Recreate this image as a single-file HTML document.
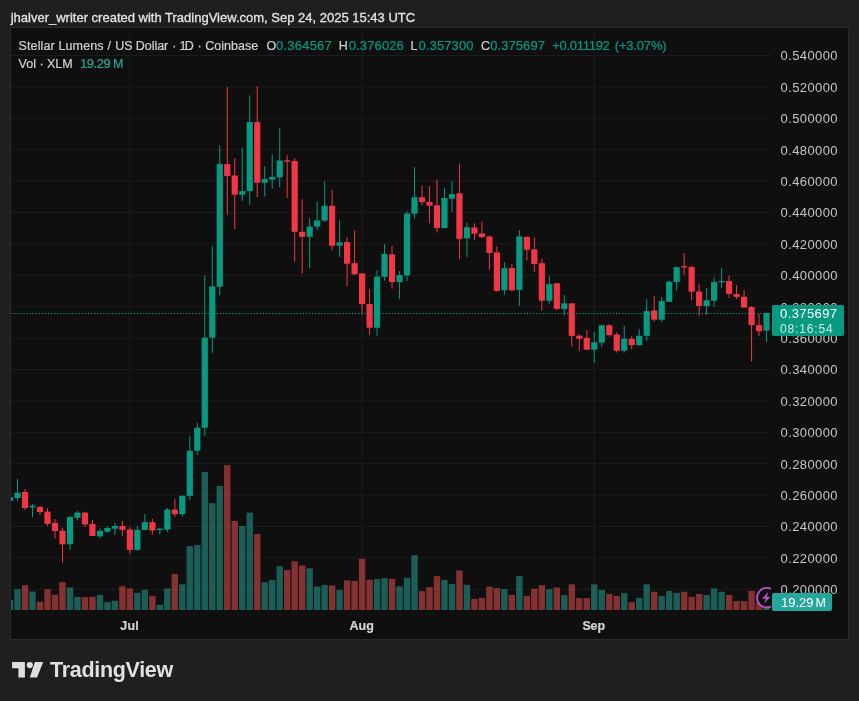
<!DOCTYPE html>
<html lang="en">
<head>
<meta charset="utf-8">
<title>XLMUSD chart</title>
<style>
html,body{margin:0;padding:0;}
body{width:859px;height:701px;background:#1f1f1f;position:relative;overflow:hidden;font-family:"Liberation Sans",Arial,sans-serif;}
.abs{position:absolute;}
.t{position:absolute;white-space:pre;-webkit-text-stroke:0.22px currentColor;}
#chart{left:10px;top:27px;width:839px;height:613px;border:1px solid #2a2a2a;box-sizing:border-box;background:#0f0f0f;}
#plot{left:0;top:0;width:859px;height:701px;}
#pbox{left:771.7px;top:305.2px;width:72.1px;height:31.1px;background:#089981;border-radius:2px;}
#vbox{left:771.8px;top:593.3px;width:60.2px;height:17.6px;background:#26a69a;border-radius:2px;}
</style>
</head>
<body>
<div id="chart" class="abs"></div>
<svg id="plot" class="abs" width="859" height="701" viewBox="0 0 859 701">
<defs><clipPath id="cp2"><rect x="11" y="28" width="760" height="611"/></clipPath><clipPath id="cp"><rect x="11" y="28" width="837" height="611"/></clipPath></defs>
<g clip-path="url(#cp)">
<rect x="11" y="55" width="760" height="1" fill="#1c1c1c"/>
<rect x="11" y="86.4" width="760" height="1" fill="#1c1c1c"/>
<rect x="11" y="117.8" width="760" height="1" fill="#1c1c1c"/>
<rect x="11" y="149.2" width="760" height="1" fill="#1c1c1c"/>
<rect x="11" y="180.6" width="760" height="1" fill="#1c1c1c"/>
<rect x="11" y="212" width="760" height="1" fill="#1c1c1c"/>
<rect x="11" y="243.4" width="760" height="1" fill="#1c1c1c"/>
<rect x="11" y="274.8" width="760" height="1" fill="#1c1c1c"/>
<rect x="11" y="306.2" width="760" height="1" fill="#1c1c1c"/>
<rect x="11" y="337.6" width="760" height="1" fill="#1c1c1c"/>
<rect x="11" y="369" width="760" height="1" fill="#1c1c1c"/>
<rect x="11" y="400.4" width="760" height="1" fill="#1c1c1c"/>
<rect x="11" y="431.8" width="760" height="1" fill="#1c1c1c"/>
<rect x="11" y="463.2" width="760" height="1" fill="#1c1c1c"/>
<rect x="11" y="494.6" width="760" height="1" fill="#1c1c1c"/>
<rect x="11" y="526" width="760" height="1" fill="#1c1c1c"/>
<rect x="11" y="557.4" width="760" height="1" fill="#1c1c1c"/>
<rect x="11" y="588.8" width="760" height="1" fill="#1c1c1c"/>
<rect x="129.39" y="28" width="1" height="583" fill="#1c1c1c"/>
<rect x="361.58" y="28" width="1" height="583" fill="#1c1c1c"/>
<rect x="593.77" y="28" width="1" height="583" fill="#1c1c1c"/>
<rect x="6.85" y="600.1" width="6.4" height="9.9" fill="#26a69a" fill-opacity="0.52"/>
<rect x="14.34" y="589.3" width="6.4" height="20.7" fill="#26a69a" fill-opacity="0.52"/>
<rect x="21.83" y="585.1" width="6.4" height="24.9" fill="#ef5350" fill-opacity="0.52"/>
<rect x="29.32" y="591.5" width="6.4" height="18.5" fill="#26a69a" fill-opacity="0.52"/>
<rect x="36.81" y="601.7" width="6.4" height="8.3" fill="#ef5350" fill-opacity="0.52"/>
<rect x="44.3" y="589.3" width="6.4" height="20.7" fill="#ef5350" fill-opacity="0.52"/>
<rect x="51.79" y="594.7" width="6.4" height="15.3" fill="#ef5350" fill-opacity="0.52"/>
<rect x="59.28" y="582.1" width="6.4" height="27.9" fill="#ef5350" fill-opacity="0.52"/>
<rect x="66.77" y="587.5" width="6.4" height="22.5" fill="#26a69a" fill-opacity="0.52"/>
<rect x="74.26" y="596.9" width="6.4" height="13.1" fill="#26a69a" fill-opacity="0.52"/>
<rect x="81.75" y="597.1" width="6.4" height="12.9" fill="#ef5350" fill-opacity="0.52"/>
<rect x="89.24" y="596.7" width="6.4" height="13.3" fill="#ef5350" fill-opacity="0.52"/>
<rect x="96.73" y="594.9" width="6.4" height="15.1" fill="#26a69a" fill-opacity="0.52"/>
<rect x="104.22" y="602.1" width="6.4" height="7.9" fill="#26a69a" fill-opacity="0.52"/>
<rect x="111.71" y="600.7" width="6.4" height="9.3" fill="#26a69a" fill-opacity="0.52"/>
<rect x="119.2" y="586.3" width="6.4" height="23.7" fill="#ef5350" fill-opacity="0.52"/>
<rect x="126.69" y="588.5" width="6.4" height="21.5" fill="#ef5350" fill-opacity="0.52"/>
<rect x="134.18" y="592.9" width="6.4" height="17.1" fill="#26a69a" fill-opacity="0.52"/>
<rect x="141.67" y="589.7" width="6.4" height="20.3" fill="#26a69a" fill-opacity="0.52"/>
<rect x="149.16" y="595.9" width="6.4" height="14.1" fill="#ef5350" fill-opacity="0.52"/>
<rect x="156.65" y="604.9" width="6.4" height="5.1" fill="#26a69a" fill-opacity="0.52"/>
<rect x="164.14" y="588.5" width="6.4" height="21.5" fill="#26a69a" fill-opacity="0.52"/>
<rect x="171.63" y="574.1" width="6.4" height="35.9" fill="#ef5350" fill-opacity="0.52"/>
<rect x="179.12" y="584.3" width="6.4" height="25.7" fill="#26a69a" fill-opacity="0.52"/>
<rect x="186.61" y="546.1" width="6.4" height="63.9" fill="#26a69a" fill-opacity="0.52"/>
<rect x="194.1" y="545.1" width="6.4" height="64.9" fill="#26a69a" fill-opacity="0.52"/>
<rect x="201.59" y="471.9" width="6.4" height="138.1" fill="#26a69a" fill-opacity="0.52"/>
<rect x="209.08" y="503.2" width="6.4" height="106.8" fill="#26a69a" fill-opacity="0.52"/>
<rect x="216.57" y="486" width="6.4" height="124" fill="#26a69a" fill-opacity="0.52"/>
<rect x="224.06" y="465.1" width="6.4" height="144.9" fill="#ef5350" fill-opacity="0.52"/>
<rect x="231.55" y="521" width="6.4" height="89" fill="#ef5350" fill-opacity="0.52"/>
<rect x="239.04" y="526" width="6.4" height="84" fill="#26a69a" fill-opacity="0.52"/>
<rect x="246.53" y="512.6" width="6.4" height="97.4" fill="#26a69a" fill-opacity="0.52"/>
<rect x="254.02" y="534" width="6.4" height="76" fill="#ef5350" fill-opacity="0.52"/>
<rect x="261.51" y="582.3" width="6.4" height="27.7" fill="#26a69a" fill-opacity="0.52"/>
<rect x="269" y="579.9" width="6.4" height="30.1" fill="#26a69a" fill-opacity="0.52"/>
<rect x="276.49" y="566.1" width="6.4" height="43.9" fill="#26a69a" fill-opacity="0.52"/>
<rect x="283.98" y="570.1" width="6.4" height="39.9" fill="#ef5350" fill-opacity="0.52"/>
<rect x="291.47" y="561.3" width="6.4" height="48.7" fill="#ef5350" fill-opacity="0.52"/>
<rect x="298.96" y="565.5" width="6.4" height="44.5" fill="#ef5350" fill-opacity="0.52"/>
<rect x="306.45" y="568.3" width="6.4" height="41.7" fill="#26a69a" fill-opacity="0.52"/>
<rect x="313.94" y="586.5" width="6.4" height="23.5" fill="#26a69a" fill-opacity="0.52"/>
<rect x="321.43" y="584.9" width="6.4" height="25.1" fill="#26a69a" fill-opacity="0.52"/>
<rect x="328.92" y="585.5" width="6.4" height="24.5" fill="#ef5350" fill-opacity="0.52"/>
<rect x="336.41" y="589.9" width="6.4" height="20.1" fill="#26a69a" fill-opacity="0.52"/>
<rect x="343.9" y="580.3" width="6.4" height="29.7" fill="#ef5350" fill-opacity="0.52"/>
<rect x="351.39" y="580.9" width="6.4" height="29.1" fill="#ef5350" fill-opacity="0.52"/>
<rect x="358.88" y="558.9" width="6.4" height="51.1" fill="#ef5350" fill-opacity="0.52"/>
<rect x="366.37" y="579.9" width="6.4" height="30.1" fill="#ef5350" fill-opacity="0.52"/>
<rect x="373.86" y="579.1" width="6.4" height="30.9" fill="#26a69a" fill-opacity="0.52"/>
<rect x="381.35" y="578.1" width="6.4" height="31.9" fill="#26a69a" fill-opacity="0.52"/>
<rect x="388.84" y="578.9" width="6.4" height="31.1" fill="#ef5350" fill-opacity="0.52"/>
<rect x="396.33" y="586.3" width="6.4" height="23.7" fill="#26a69a" fill-opacity="0.52"/>
<rect x="403.82" y="577.9" width="6.4" height="32.1" fill="#26a69a" fill-opacity="0.52"/>
<rect x="411.31" y="555.3" width="6.4" height="54.7" fill="#26a69a" fill-opacity="0.52"/>
<rect x="418.8" y="591.1" width="6.4" height="18.9" fill="#ef5350" fill-opacity="0.52"/>
<rect x="426.29" y="587.1" width="6.4" height="22.9" fill="#ef5350" fill-opacity="0.52"/>
<rect x="433.78" y="576.1" width="6.4" height="33.9" fill="#ef5350" fill-opacity="0.52"/>
<rect x="441.27" y="579.9" width="6.4" height="30.1" fill="#26a69a" fill-opacity="0.52"/>
<rect x="448.76" y="583.9" width="6.4" height="26.1" fill="#26a69a" fill-opacity="0.52"/>
<rect x="456.25" y="570.5" width="6.4" height="39.5" fill="#ef5350" fill-opacity="0.52"/>
<rect x="463.74" y="584.9" width="6.4" height="25.1" fill="#26a69a" fill-opacity="0.52"/>
<rect x="471.23" y="598.9" width="6.4" height="11.1" fill="#ef5350" fill-opacity="0.52"/>
<rect x="478.72" y="597.9" width="6.4" height="12.1" fill="#ef5350" fill-opacity="0.52"/>
<rect x="486.21" y="586.6" width="6.4" height="23.4" fill="#ef5350" fill-opacity="0.52"/>
<rect x="493.7" y="588.1" width="6.4" height="21.9" fill="#ef5350" fill-opacity="0.52"/>
<rect x="501.19" y="589.1" width="6.4" height="20.9" fill="#26a69a" fill-opacity="0.52"/>
<rect x="508.68" y="594.9" width="6.4" height="15.1" fill="#ef5350" fill-opacity="0.52"/>
<rect x="516.17" y="576.1" width="6.4" height="33.9" fill="#26a69a" fill-opacity="0.52"/>
<rect x="523.66" y="595.9" width="6.4" height="14.1" fill="#ef5350" fill-opacity="0.52"/>
<rect x="531.15" y="588.7" width="6.4" height="21.3" fill="#ef5350" fill-opacity="0.52"/>
<rect x="538.64" y="585.3" width="6.4" height="24.7" fill="#ef5350" fill-opacity="0.52"/>
<rect x="546.13" y="589.3" width="6.4" height="20.7" fill="#26a69a" fill-opacity="0.52"/>
<rect x="553.62" y="587.5" width="6.4" height="22.5" fill="#ef5350" fill-opacity="0.52"/>
<rect x="561.11" y="595.1" width="6.4" height="14.9" fill="#26a69a" fill-opacity="0.52"/>
<rect x="568.6" y="584.3" width="6.4" height="25.7" fill="#ef5350" fill-opacity="0.52"/>
<rect x="576.09" y="598.1" width="6.4" height="11.9" fill="#ef5350" fill-opacity="0.52"/>
<rect x="583.58" y="598.1" width="6.4" height="11.9" fill="#ef5350" fill-opacity="0.52"/>
<rect x="591.07" y="584.3" width="6.4" height="25.7" fill="#26a69a" fill-opacity="0.52"/>
<rect x="598.56" y="589.9" width="6.4" height="20.1" fill="#26a69a" fill-opacity="0.52"/>
<rect x="606.05" y="593.9" width="6.4" height="16.1" fill="#ef5350" fill-opacity="0.52"/>
<rect x="613.54" y="595.9" width="6.4" height="14.1" fill="#ef5350" fill-opacity="0.52"/>
<rect x="621.03" y="593.1" width="6.4" height="16.9" fill="#26a69a" fill-opacity="0.52"/>
<rect x="628.52" y="602.3" width="6.4" height="7.7" fill="#ef5350" fill-opacity="0.52"/>
<rect x="636.01" y="597.9" width="6.4" height="12.1" fill="#26a69a" fill-opacity="0.52"/>
<rect x="643.5" y="584.3" width="6.4" height="25.7" fill="#26a69a" fill-opacity="0.52"/>
<rect x="650.99" y="591.7" width="6.4" height="18.3" fill="#ef5350" fill-opacity="0.52"/>
<rect x="658.48" y="596.1" width="6.4" height="13.9" fill="#26a69a" fill-opacity="0.52"/>
<rect x="665.97" y="590.9" width="6.4" height="19.1" fill="#26a69a" fill-opacity="0.52"/>
<rect x="673.46" y="592.9" width="6.4" height="17.1" fill="#26a69a" fill-opacity="0.52"/>
<rect x="680.95" y="591.7" width="6.4" height="18.3" fill="#ef5350" fill-opacity="0.52"/>
<rect x="688.44" y="596.9" width="6.4" height="13.1" fill="#ef5350" fill-opacity="0.52"/>
<rect x="695.93" y="593.9" width="6.4" height="16.1" fill="#ef5350" fill-opacity="0.52"/>
<rect x="703.42" y="595.1" width="6.4" height="14.9" fill="#26a69a" fill-opacity="0.52"/>
<rect x="710.91" y="588.5" width="6.4" height="21.5" fill="#26a69a" fill-opacity="0.52"/>
<rect x="718.4" y="591.7" width="6.4" height="18.3" fill="#26a69a" fill-opacity="0.52"/>
<rect x="725.89" y="594.9" width="6.4" height="15.1" fill="#ef5350" fill-opacity="0.52"/>
<rect x="733.38" y="601.1" width="6.4" height="8.9" fill="#ef5350" fill-opacity="0.52"/>
<rect x="740.87" y="601.1" width="6.4" height="8.9" fill="#ef5350" fill-opacity="0.52"/>
<rect x="748.36" y="590.9" width="6.4" height="19.1" fill="#ef5350" fill-opacity="0.52"/>
<rect x="755.85" y="602.5" width="6.4" height="7.5" fill="#ef5350" fill-opacity="0.52"/>
<rect x="763.34" y="602.1" width="6.4" height="7.9" fill="#26a69a" fill-opacity="0.52"/>
<rect x="9.55" y="497.2" width="1" height="3.6" fill="#089981"/>
<rect x="6.95" y="497.2" width="6.2" height="3.6" fill="#089981"/>
<rect x="17.04" y="478.8" width="1" height="22" fill="#089981"/>
<rect x="14.44" y="492.8" width="6.2" height="5.2" fill="#089981"/>
<rect x="24.53" y="489" width="1" height="21" fill="#f23645"/>
<rect x="21.93" y="492" width="6.2" height="16" fill="#f23645"/>
<rect x="32.02" y="504" width="1" height="13.2" fill="#089981"/>
<rect x="29.42" y="505.8" width="6.2" height="1.6" fill="#089981"/>
<rect x="39.51" y="506" width="1" height="9" fill="#f23645"/>
<rect x="36.91" y="507" width="6.2" height="5" fill="#f23645"/>
<rect x="47" y="508.2" width="1" height="17.7" fill="#f23645"/>
<rect x="44.4" y="511.6" width="6.2" height="12.3" fill="#f23645"/>
<rect x="54.49" y="519" width="1" height="19.3" fill="#f23645"/>
<rect x="51.89" y="523" width="6.2" height="8" fill="#f23645"/>
<rect x="61.98" y="528" width="1" height="34.9" fill="#f23645"/>
<rect x="59.38" y="530.7" width="6.2" height="13.6" fill="#f23645"/>
<rect x="69.47" y="516" width="1" height="33.7" fill="#089981"/>
<rect x="66.87" y="517" width="6.2" height="27.3" fill="#089981"/>
<rect x="76.96" y="511" width="1" height="9.4" fill="#089981"/>
<rect x="74.36" y="512.6" width="6.2" height="5.2" fill="#089981"/>
<rect x="84.45" y="511.6" width="1" height="15.3" fill="#f23645"/>
<rect x="81.85" y="512.6" width="6.2" height="11.9" fill="#f23645"/>
<rect x="91.94" y="520" width="1" height="16" fill="#f23645"/>
<rect x="89.34" y="524" width="6.2" height="12" fill="#f23645"/>
<rect x="99.43" y="528.7" width="1" height="9.6" fill="#089981"/>
<rect x="96.83" y="530.9" width="6.2" height="5.4" fill="#089981"/>
<rect x="106.92" y="526.3" width="1" height="6.7" fill="#089981"/>
<rect x="104.32" y="528" width="6.2" height="3.7" fill="#089981"/>
<rect x="114.41" y="522.8" width="1" height="12.1" fill="#089981"/>
<rect x="111.81" y="526" width="6.2" height="2.7" fill="#089981"/>
<rect x="121.9" y="521" width="1" height="15.3" fill="#f23645"/>
<rect x="119.3" y="526" width="6.2" height="3.9" fill="#f23645"/>
<rect x="129.39" y="527.3" width="1" height="26.6" fill="#f23645"/>
<rect x="126.79" y="529.5" width="6.2" height="20.4" fill="#f23645"/>
<rect x="136.88" y="526" width="1" height="25" fill="#089981"/>
<rect x="134.28" y="529.9" width="6.2" height="20" fill="#089981"/>
<rect x="144.37" y="514" width="1" height="15.9" fill="#089981"/>
<rect x="141.77" y="522.2" width="6.2" height="7.7" fill="#089981"/>
<rect x="151.86" y="518.8" width="1" height="15.7" fill="#f23645"/>
<rect x="149.26" y="522.2" width="6.2" height="8.3" fill="#f23645"/>
<rect x="159.35" y="528" width="1" height="6.3" fill="#089981"/>
<rect x="156.75" y="528.7" width="6.2" height="1.3" fill="#089981"/>
<rect x="166.84" y="508" width="1" height="23.9" fill="#089981"/>
<rect x="164.24" y="509.6" width="6.2" height="19.9" fill="#089981"/>
<rect x="174.33" y="499" width="1" height="17.8" fill="#f23645"/>
<rect x="171.73" y="509.6" width="6.2" height="4.6" fill="#f23645"/>
<rect x="181.82" y="495.4" width="1" height="21.4" fill="#089981"/>
<rect x="179.22" y="495.8" width="6.2" height="18.4" fill="#089981"/>
<rect x="189.31" y="436.1" width="1" height="64.1" fill="#089981"/>
<rect x="186.71" y="450.7" width="6.2" height="45.1" fill="#089981"/>
<rect x="196.8" y="423.1" width="1" height="31.8" fill="#089981"/>
<rect x="194.2" y="427.7" width="6.2" height="23" fill="#089981"/>
<rect x="204.29" y="275.5" width="1" height="160.6" fill="#089981"/>
<rect x="201.69" y="337.7" width="6.2" height="90" fill="#089981"/>
<rect x="211.78" y="246" width="1" height="106.8" fill="#089981"/>
<rect x="209.18" y="286.3" width="6.2" height="51.4" fill="#089981"/>
<rect x="219.27" y="145.7" width="1" height="149.4" fill="#089981"/>
<rect x="216.67" y="164.1" width="6.2" height="122.6" fill="#089981"/>
<rect x="226.76" y="87" width="1" height="127.8" fill="#f23645"/>
<rect x="224.16" y="164.1" width="6.2" height="12" fill="#f23645"/>
<rect x="234.25" y="158.1" width="1" height="70.9" fill="#f23645"/>
<rect x="231.65" y="175.5" width="6.2" height="19.2" fill="#f23645"/>
<rect x="241.74" y="148.1" width="1" height="52.9" fill="#089981"/>
<rect x="239.14" y="191.1" width="6.2" height="3.6" fill="#089981"/>
<rect x="249.23" y="95.4" width="1" height="109.8" fill="#089981"/>
<rect x="246.63" y="122.1" width="6.2" height="69" fill="#089981"/>
<rect x="256.72" y="86" width="1" height="111" fill="#f23645"/>
<rect x="254.12" y="122.1" width="6.2" height="60.6" fill="#f23645"/>
<rect x="264.21" y="166.1" width="1" height="30.4" fill="#089981"/>
<rect x="261.61" y="179.1" width="6.2" height="3.6" fill="#089981"/>
<rect x="271.7" y="154.1" width="1" height="34.6" fill="#089981"/>
<rect x="269.1" y="176.9" width="6.2" height="2.8" fill="#089981"/>
<rect x="279.19" y="127.7" width="1" height="59.6" fill="#089981"/>
<rect x="276.59" y="160.5" width="6.2" height="16.8" fill="#089981"/>
<rect x="286.68" y="155.1" width="1" height="43" fill="#f23645"/>
<rect x="284.08" y="160.3" width="6.2" height="1.4" fill="#f23645"/>
<rect x="294.17" y="158.1" width="1" height="103.4" fill="#f23645"/>
<rect x="291.57" y="161.1" width="6.2" height="70.7" fill="#f23645"/>
<rect x="301.66" y="199.3" width="1" height="74.2" fill="#f23645"/>
<rect x="299.06" y="231.8" width="6.2" height="5" fill="#f23645"/>
<rect x="309.15" y="218" width="1" height="50.1" fill="#089981"/>
<rect x="306.55" y="226.6" width="6.2" height="10.2" fill="#089981"/>
<rect x="316.64" y="201.5" width="1" height="28.9" fill="#089981"/>
<rect x="314.04" y="220.4" width="6.2" height="6.2" fill="#089981"/>
<rect x="324.13" y="181.5" width="1" height="40.5" fill="#089981"/>
<rect x="321.53" y="205.8" width="6.2" height="14.8" fill="#089981"/>
<rect x="331.62" y="190" width="1" height="60.6" fill="#f23645"/>
<rect x="329.02" y="205.8" width="6.2" height="40" fill="#f23645"/>
<rect x="339.11" y="220.5" width="1" height="36.4" fill="#089981"/>
<rect x="336.51" y="242.3" width="6.2" height="3.4" fill="#089981"/>
<rect x="346.6" y="237.1" width="1" height="49.1" fill="#f23645"/>
<rect x="344" y="242.1" width="6.2" height="21.6" fill="#f23645"/>
<rect x="354.09" y="230.3" width="1" height="44.8" fill="#f23645"/>
<rect x="351.49" y="263.1" width="6.2" height="11.2" fill="#f23645"/>
<rect x="361.58" y="273" width="1" height="41.7" fill="#f23645"/>
<rect x="358.98" y="273.4" width="6.2" height="30.7" fill="#f23645"/>
<rect x="369.07" y="289.3" width="1" height="45.6" fill="#f23645"/>
<rect x="366.47" y="304.1" width="6.2" height="23.6" fill="#f23645"/>
<rect x="376.56" y="270.3" width="1" height="65.4" fill="#089981"/>
<rect x="373.96" y="276.6" width="6.2" height="51.1" fill="#089981"/>
<rect x="384.05" y="244" width="1" height="36.7" fill="#089981"/>
<rect x="381.45" y="254" width="6.2" height="22.8" fill="#089981"/>
<rect x="391.54" y="246" width="1" height="42.7" fill="#f23645"/>
<rect x="388.94" y="254.4" width="6.2" height="27.7" fill="#f23645"/>
<rect x="399.03" y="271" width="1" height="28.1" fill="#089981"/>
<rect x="396.43" y="275" width="6.2" height="7.1" fill="#089981"/>
<rect x="406.52" y="211.1" width="1" height="70" fill="#089981"/>
<rect x="403.92" y="213.5" width="6.2" height="61.9" fill="#089981"/>
<rect x="414.01" y="167.2" width="1" height="51.5" fill="#089981"/>
<rect x="411.41" y="197.3" width="6.2" height="16.4" fill="#089981"/>
<rect x="421.5" y="185.8" width="1" height="19.3" fill="#f23645"/>
<rect x="418.9" y="197.3" width="6.2" height="4.8" fill="#f23645"/>
<rect x="428.99" y="186" width="1" height="37.3" fill="#f23645"/>
<rect x="426.39" y="201.9" width="6.2" height="3.8" fill="#f23645"/>
<rect x="436.48" y="179.6" width="1" height="52.9" fill="#f23645"/>
<rect x="433.88" y="205.3" width="6.2" height="22.8" fill="#f23645"/>
<rect x="443.97" y="187.6" width="1" height="40.9" fill="#089981"/>
<rect x="441.37" y="198.1" width="6.2" height="30" fill="#089981"/>
<rect x="451.46" y="181.4" width="1" height="30.7" fill="#089981"/>
<rect x="448.86" y="194.1" width="6.2" height="4.6" fill="#089981"/>
<rect x="458.95" y="163.6" width="1" height="95.5" fill="#f23645"/>
<rect x="456.35" y="193.3" width="6.2" height="45.6" fill="#f23645"/>
<rect x="466.44" y="222.7" width="1" height="34.2" fill="#089981"/>
<rect x="463.84" y="227.3" width="6.2" height="11" fill="#089981"/>
<rect x="473.93" y="223.3" width="1" height="16.8" fill="#f23645"/>
<rect x="471.33" y="227.5" width="6.2" height="6.2" fill="#f23645"/>
<rect x="481.42" y="221.7" width="1" height="16.4" fill="#f23645"/>
<rect x="478.82" y="233.5" width="6.2" height="3.6" fill="#f23645"/>
<rect x="488.91" y="235.4" width="1" height="34.4" fill="#f23645"/>
<rect x="486.31" y="236.6" width="6.2" height="16.4" fill="#f23645"/>
<rect x="496.4" y="246.4" width="1" height="45.3" fill="#f23645"/>
<rect x="493.8" y="252.4" width="6.2" height="38.5" fill="#f23645"/>
<rect x="503.89" y="262.2" width="1" height="32.7" fill="#089981"/>
<rect x="501.29" y="268.2" width="6.2" height="22.1" fill="#089981"/>
<rect x="511.38" y="264" width="1" height="27.5" fill="#f23645"/>
<rect x="508.78" y="268" width="6.2" height="22.3" fill="#f23645"/>
<rect x="518.87" y="230" width="1" height="75.9" fill="#089981"/>
<rect x="516.27" y="236.4" width="6.2" height="53.5" fill="#089981"/>
<rect x="526.36" y="236.4" width="1" height="24.2" fill="#f23645"/>
<rect x="523.76" y="237" width="6.2" height="12.8" fill="#f23645"/>
<rect x="533.85" y="237.4" width="1" height="34.5" fill="#f23645"/>
<rect x="531.25" y="249.4" width="6.2" height="14.6" fill="#f23645"/>
<rect x="541.34" y="258.6" width="1" height="52.1" fill="#f23645"/>
<rect x="538.74" y="263.2" width="6.2" height="37.5" fill="#f23645"/>
<rect x="548.83" y="276.1" width="1" height="27.6" fill="#089981"/>
<rect x="546.23" y="284.1" width="6.2" height="16.6" fill="#089981"/>
<rect x="556.32" y="283" width="1" height="27.3" fill="#f23645"/>
<rect x="553.72" y="283.3" width="6.2" height="25.6" fill="#f23645"/>
<rect x="563.81" y="295.1" width="1" height="20.6" fill="#089981"/>
<rect x="561.21" y="303.3" width="6.2" height="5.6" fill="#089981"/>
<rect x="571.3" y="303" width="1" height="43.5" fill="#f23645"/>
<rect x="568.7" y="303.3" width="6.2" height="32.6" fill="#f23645"/>
<rect x="578.79" y="334.1" width="1" height="16.8" fill="#f23645"/>
<rect x="576.19" y="335.7" width="6.2" height="3" fill="#f23645"/>
<rect x="586.28" y="330.1" width="1" height="20" fill="#f23645"/>
<rect x="583.68" y="337.9" width="6.2" height="11.8" fill="#f23645"/>
<rect x="593.77" y="332.1" width="1" height="30.7" fill="#089981"/>
<rect x="591.17" y="342.3" width="6.2" height="7.4" fill="#089981"/>
<rect x="601.26" y="325" width="1" height="22.3" fill="#089981"/>
<rect x="598.66" y="325.3" width="6.2" height="17.4" fill="#089981"/>
<rect x="608.75" y="324.1" width="1" height="12.8" fill="#f23645"/>
<rect x="606.15" y="325.3" width="6.2" height="9.8" fill="#f23645"/>
<rect x="616.24" y="332.3" width="1" height="20.2" fill="#f23645"/>
<rect x="613.64" y="334.5" width="6.2" height="16.2" fill="#f23645"/>
<rect x="623.73" y="325.9" width="1" height="26.6" fill="#089981"/>
<rect x="621.13" y="338.7" width="6.2" height="12" fill="#089981"/>
<rect x="631.22" y="336.1" width="1" height="13.4" fill="#f23645"/>
<rect x="628.62" y="338.8" width="6.2" height="6.3" fill="#f23645"/>
<rect x="638.71" y="329.1" width="1" height="16.4" fill="#089981"/>
<rect x="636.11" y="335.8" width="6.2" height="9.3" fill="#089981"/>
<rect x="646.2" y="299.1" width="1" height="41.6" fill="#089981"/>
<rect x="643.6" y="311.1" width="6.2" height="24.7" fill="#089981"/>
<rect x="653.69" y="296.1" width="1" height="25.6" fill="#f23645"/>
<rect x="651.09" y="310.5" width="6.2" height="9.2" fill="#f23645"/>
<rect x="661.18" y="297.1" width="1" height="25" fill="#089981"/>
<rect x="658.58" y="301.1" width="6.2" height="18.6" fill="#089981"/>
<rect x="668.67" y="280.7" width="1" height="21.3" fill="#089981"/>
<rect x="666.07" y="281.7" width="6.2" height="20.2" fill="#089981"/>
<rect x="676.16" y="266.6" width="1" height="24.3" fill="#089981"/>
<rect x="673.56" y="267.2" width="6.2" height="14.7" fill="#089981"/>
<rect x="683.65" y="253" width="1" height="22" fill="#f23645"/>
<rect x="681.05" y="266.2" width="6.2" height="1.2" fill="#f23645"/>
<rect x="691.14" y="266.2" width="1" height="34.1" fill="#f23645"/>
<rect x="688.54" y="267" width="6.2" height="24.7" fill="#f23645"/>
<rect x="698.63" y="283.9" width="1" height="32" fill="#f23645"/>
<rect x="696.03" y="291.5" width="6.2" height="14.6" fill="#f23645"/>
<rect x="706.12" y="288.1" width="1" height="26.8" fill="#089981"/>
<rect x="703.52" y="300.3" width="6.2" height="5.8" fill="#089981"/>
<rect x="713.61" y="277.4" width="1" height="29.3" fill="#089981"/>
<rect x="711.01" y="282.1" width="6.2" height="18.6" fill="#089981"/>
<rect x="721.1" y="268" width="1" height="19.5" fill="#089981"/>
<rect x="718.5" y="281.1" width="6.2" height="1.2" fill="#089981"/>
<rect x="728.59" y="275.2" width="1" height="22.7" fill="#f23645"/>
<rect x="725.99" y="281.1" width="6.2" height="12.8" fill="#f23645"/>
<rect x="736.08" y="284.9" width="1" height="14.2" fill="#f23645"/>
<rect x="733.48" y="294.1" width="6.2" height="2.8" fill="#f23645"/>
<rect x="743.57" y="290.1" width="1" height="17.9" fill="#f23645"/>
<rect x="740.97" y="296.7" width="6.2" height="10.8" fill="#f23645"/>
<rect x="751.06" y="306" width="1" height="55.5" fill="#f23645"/>
<rect x="748.46" y="307.1" width="6.2" height="18" fill="#f23645"/>
<rect x="758.55" y="313.7" width="1" height="22.2" fill="#f23645"/>
<rect x="755.95" y="325.1" width="6.2" height="6.2" fill="#f23645"/>
<rect x="766.04" y="312.6" width="1" height="29.4" fill="#089981"/>
<rect x="763.44" y="313.2" width="6.2" height="17.4" fill="#089981"/>
<line x1="11.2" y1="313.5" x2="771" y2="313.5" stroke="#0aa88d" stroke-width="1" stroke-dasharray="1.1 1.97"/>
</g>
<g clip-path="url(#cp2)"><circle cx="766.8" cy="597.7" r="9.8" fill="#0f0f0f" stroke="#b853cb" stroke-width="1.8"/></g>
<path d="M768.3 591.8 L762.1 598.7 L765.8 598.7 L764.4 603.6 L770.3 596.7 L766.9 596.7 Z" fill="#b853cb"/>
<g fill="#dedede">
<path d="M12.1 662.05 H24.9 V677.45 H18.4 V668.3 H12.1 Z"/>
<circle cx="29.8" cy="665.1" r="3.1"/>
<path d="M34.9 662.05 H43.2 L37 677.45 H29.8 Z"/>
</g>
</svg>
<div class="t" style="left:10.7px;top:10.4px;font-size:13px;line-height:16px;color:#e4e4e4;-webkit-text-stroke:0.3px #e4e4e4;">jhalver_writer created with TradingView.com, Sep 24, 2025 15:43 UTC</div>
<div class="t" style="left:18.56px;top:38.07px;font-size:12.5px;line-height:16px;color:#d0d0d0;letter-spacing:0.124px;">Stellar Lumens</div>
<div class="t" style="left:107.4px;top:38.07px;font-size:12.5px;line-height:16px;color:#d0d0d0;">/</div>
<div class="t" style="left:115.2px;top:38.07px;font-size:12.5px;line-height:16px;color:#d0d0d0;letter-spacing:-0.053px;">US Dollar</div>
<div class="t" style="left:172.3px;top:38.07px;font-size:12.5px;line-height:16px;color:#d0d0d0;">·</div>
<div class="t" style="left:179.6px;top:38.07px;font-size:12.5px;line-height:16px;color:#d0d0d0;letter-spacing:-1.752px;">1D</div>
<div class="t" style="left:197.4px;top:38.07px;font-size:12.5px;line-height:16px;color:#d0d0d0;">·</div>
<div class="t" style="left:205.3px;top:38.07px;font-size:12.5px;line-height:16px;color:#d0d0d0;letter-spacing:0.005px;">Coinbase</div>
<div class="t" style="left:266.4px;top:38.07px;font-size:12.5px;line-height:16px;color:#d0d0d0;">O</div>
<div class="t" style="left:276.1px;top:37.9px;font-size:13px;line-height:16px;color:#089981;letter-spacing:0.201px;">0.364567</div>
<div class="t" style="left:338.7px;top:38.07px;font-size:12.5px;line-height:16px;color:#d0d0d0;">H</div>
<div class="t" style="left:348.8px;top:37.9px;font-size:13px;line-height:16px;color:#089981;letter-spacing:0.115px;">0.376026</div>
<div class="t" style="left:410.5px;top:38.07px;font-size:12.5px;line-height:16px;color:#d0d0d0;">L</div>
<div class="t" style="left:418.5px;top:37.9px;font-size:13px;line-height:16px;color:#089981;letter-spacing:0.115px;">0.357300</div>
<div class="t" style="left:481.1px;top:38.07px;font-size:12.5px;line-height:16px;color:#d0d0d0;">C</div>
<div class="t" style="left:490.2px;top:37.9px;font-size:13px;line-height:16px;color:#089981;letter-spacing:0.073px;">0.375697</div>
<div class="t" style="left:552.2px;top:37.9px;font-size:13px;line-height:16px;color:#089981;letter-spacing:-0.282px;">+0.011192</div>
<div class="t" style="left:614.8px;top:37.9px;font-size:13px;line-height:16px;color:#089981;letter-spacing:-0.183px;">(+3.07%)</div>
<div class="t" style="left:18.6px;top:56.27px;font-size:12.5px;line-height:16px;color:#d0d0d0;letter-spacing:-0.009px;">Vol · XLM</div>
<div class="t" style="left:80px;top:56.1px;font-size:13px;line-height:16px;color:#26a69a;letter-spacing:-0.425px;">19.29</div>
<div class="t" style="left:112.9px;top:56.27px;font-size:12.5px;line-height:16px;color:#26a69a;">M</div>
<div class="t" style="left:780.6px;top:48.4px;font-size:13px;line-height:16px;color:#c4c4c4;letter-spacing:0.387px;-webkit-text-stroke:0;">0.540000</div>
<div class="t" style="left:780.6px;top:79.8px;font-size:13px;line-height:16px;color:#c4c4c4;letter-spacing:0.387px;-webkit-text-stroke:0;">0.520000</div>
<div class="t" style="left:780.6px;top:111.2px;font-size:13px;line-height:16px;color:#c4c4c4;letter-spacing:0.387px;-webkit-text-stroke:0;">0.500000</div>
<div class="t" style="left:780.6px;top:142.6px;font-size:13px;line-height:16px;color:#c4c4c4;letter-spacing:0.387px;-webkit-text-stroke:0;">0.480000</div>
<div class="t" style="left:780.6px;top:174px;font-size:13px;line-height:16px;color:#c4c4c4;letter-spacing:0.387px;-webkit-text-stroke:0;">0.460000</div>
<div class="t" style="left:780.6px;top:205.4px;font-size:13px;line-height:16px;color:#c4c4c4;letter-spacing:0.387px;-webkit-text-stroke:0;">0.440000</div>
<div class="t" style="left:780.6px;top:236.8px;font-size:13px;line-height:16px;color:#c4c4c4;letter-spacing:0.387px;-webkit-text-stroke:0;">0.420000</div>
<div class="t" style="left:780.6px;top:268.2px;font-size:13px;line-height:16px;color:#c4c4c4;letter-spacing:0.387px;-webkit-text-stroke:0;">0.400000</div>
<div class="t" style="left:780.6px;top:299.6px;font-size:13px;line-height:16px;color:#c4c4c4;letter-spacing:0.387px;-webkit-text-stroke:0;">0.380000</div>
<div class="t" style="left:780.6px;top:331px;font-size:13px;line-height:16px;color:#c4c4c4;letter-spacing:0.387px;-webkit-text-stroke:0;">0.360000</div>
<div class="t" style="left:780.6px;top:362.4px;font-size:13px;line-height:16px;color:#c4c4c4;letter-spacing:0.387px;-webkit-text-stroke:0;">0.340000</div>
<div class="t" style="left:780.6px;top:393.8px;font-size:13px;line-height:16px;color:#c4c4c4;letter-spacing:0.387px;-webkit-text-stroke:0;">0.320000</div>
<div class="t" style="left:780.6px;top:425.2px;font-size:13px;line-height:16px;color:#c4c4c4;letter-spacing:0.387px;-webkit-text-stroke:0;">0.300000</div>
<div class="t" style="left:780.6px;top:456.6px;font-size:13px;line-height:16px;color:#c4c4c4;letter-spacing:0.387px;-webkit-text-stroke:0;">0.280000</div>
<div class="t" style="left:780.6px;top:488px;font-size:13px;line-height:16px;color:#c4c4c4;letter-spacing:0.387px;-webkit-text-stroke:0;">0.260000</div>
<div class="t" style="left:780.6px;top:519.4px;font-size:13px;line-height:16px;color:#c4c4c4;letter-spacing:0.387px;-webkit-text-stroke:0;">0.240000</div>
<div class="t" style="left:780.6px;top:550.8px;font-size:13px;line-height:16px;color:#c4c4c4;letter-spacing:0.387px;-webkit-text-stroke:0;">0.220000</div>
<div class="t" style="left:780.6px;top:582.2px;font-size:13px;line-height:16px;color:#c4c4c4;letter-spacing:0.387px;-webkit-text-stroke:0;">0.200000</div>
<div class="t" style="left:120.3px;top:617.97px;font-size:12.5px;line-height:16px;color:#d2d2d2;letter-spacing:0.156px;font-weight:bold;">Jul</div>
<div class="t" style="left:349.6px;top:617.97px;font-size:12.5px;line-height:16px;color:#d2d2d2;letter-spacing:-0.031px;font-weight:bold;">Aug</div>
<div class="t" style="left:582.4px;top:617.97px;font-size:12.5px;line-height:16px;color:#d2d2d2;letter-spacing:-0.145px;font-weight:bold;">Sep</div>
<div class="t" style="left:50.1px;top:657px;font-size:21.5px;line-height:26px;color:#e0e0e0;letter-spacing:-0.313px;font-weight:bold;-webkit-text-stroke:0;">TradingView</div>
<div id="pbox" class="abs"></div>
<div id="vbox" class="abs"></div>
<div class="t" style="left:780.1px;top:305.7px;font-size:13px;line-height:16px;color:#ffffff;letter-spacing:0.387px;-webkit-text-stroke:0;">0.375697</div>
<div class="t" style="left:780.1px;top:320.54px;font-size:12px;line-height:16px;color:rgba(255,255,255,0.8);letter-spacing:0.823px;-webkit-text-stroke:0;">08:16:54</div>
<div class="t" style="left:781.1px;top:594.8px;font-size:13px;line-height:16px;color:#ffffff;letter-spacing:-0.05px;-webkit-text-stroke:0;">19.29</div>
<div class="t" style="left:815.6px;top:594.97px;font-size:12.5px;line-height:16px;color:#ffffff;-webkit-text-stroke:0;">M</div>
</body>
</html>
